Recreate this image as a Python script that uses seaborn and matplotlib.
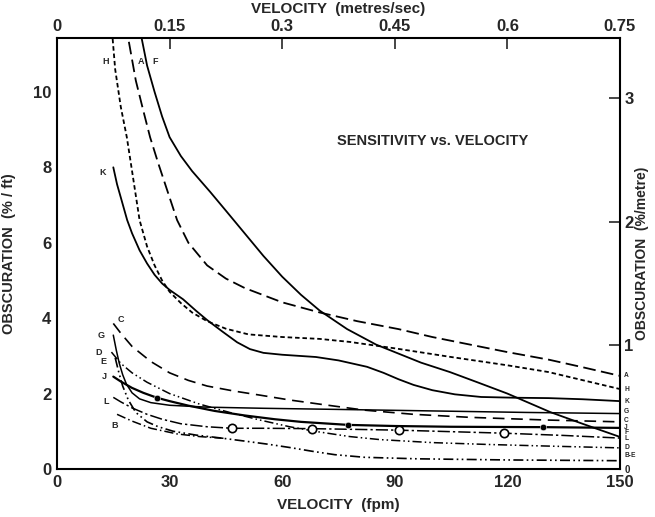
import numpy as np
import pandas as pd
import matplotlib
matplotlib.use('Agg')
import matplotlib.pyplot as plt
import seaborn as sns

# curve readings: velocity (fpm) vs obscuration (%/ft)
A_x = [18.3, 21, 23, 24.8, 27, 30, 32, 35, 40, 45, 50, 60, 70, 80, 91, 100, 110, 120, 131, 140, 150]
A_y = [11.8, 10.3, 9.5, 8.8, 8.1, 7.2, 6.6, 6.0, 5.4, 5.05, 4.8, 4.42, 4.15, 3.92, 3.71, 3.5, 3.3, 3.1, 2.9, 2.7, 2.47]

H_x = [14.5, 15.5, 17, 18.6, 20, 22, 24, 26, 28, 30, 33, 36, 40, 45, 51, 60, 70, 78, 90, 105, 120, 131, 150]
H_y = [11.8, 10.6, 9.6, 8.8, 7.9, 6.6, 5.9, 5.4, 5.0, 4.7, 4.4, 4.15, 3.92, 3.72, 3.57, 3.5, 3.45, 3.37, 3.2, 2.97, 2.75, 2.57, 2.12]

F_x = [22.2, 24, 26, 28, 30, 33, 36, 40.8, 45, 50, 55, 60, 65, 70, 77.3, 85, 90, 97, 104.7, 112, 120, 131.4, 140, 150]
F_y = [11.6, 10.7, 10.0, 9.35, 8.8, 8.3, 7.9, 7.35, 6.85, 6.25, 5.65, 5.1, 4.62, 4.2, 3.71, 3.3, 3.1, 2.82, 2.57, 2.3, 2.0, 1.51, 1.2, 0.85]

K_x = [15, 16, 17, 18.7, 20, 22, 24, 26, 28, 30, 33.6, 37, 40, 44, 48, 51.4, 55, 60, 69, 75, 82.6, 87, 91, 95, 100, 106, 113, 122, 131, 140, 150]
K_y = [8.0, 7.55, 7.2, 6.6, 6.25, 5.8, 5.45, 5.15, 4.92, 4.75, 4.5, 4.2, 3.95, 3.65, 3.36, 3.18, 3.08, 3.03, 2.97, 2.88, 2.71, 2.55, 2.38, 2.23, 2.09, 1.98, 1.91, 1.89, 1.88, 1.85, 1.8]

C_x = [15, 17, 20, 25, 30, 35, 40, 47, 54, 62, 70, 82, 95, 110, 130, 150]
C_y = [3.86, 3.6, 3.25, 2.85, 2.55, 2.35, 2.2, 2.07, 1.96, 1.83, 1.72, 1.56, 1.45, 1.37, 1.3, 1.25]

G_x = [15, 15.8, 16.6, 17.5, 18.5, 20, 22, 25, 30, 40, 55, 75, 100, 125, 150]
G_y = [3.55, 3.15, 2.8, 2.5, 2.25, 2.02, 1.86, 1.76, 1.69, 1.64, 1.61, 1.58, 1.54, 1.5, 1.47]

D_x = [14.5, 17, 20, 24, 30, 38, 46, 54, 62, 70, 78, 86, 100, 115, 130, 150]
D_y = [3.1, 2.8, 2.55, 2.3, 2.0, 1.72, 1.5, 1.3, 1.12, 0.98, 0.86, 0.78, 0.7, 0.65, 0.61, 0.56]

E_x = [15.5, 16.5, 17.5, 19, 21, 24, 27, 31, 37, 43, 50, 56, 62, 68, 74, 82, 96, 120, 150]
E_y = [2.95, 2.55, 2.2, 1.83, 1.5, 1.25, 1.12, 1.0, 0.9, 0.83, 0.74, 0.66, 0.57, 0.47, 0.38, 0.31, 0.27, 0.24, 0.22]

B_x = [16, 20, 25, 32, 38, 45]
B_y = [1.45, 1.27, 1.08, 0.93, 0.86, 0.81]

J_x = [15, 17, 20, 23, 26.6, 30, 35, 42, 50, 58, 65, 77.5, 90, 105, 129.5, 150]
J_y = [2.45, 2.32, 2.15, 2.02, 1.89, 1.8, 1.68, 1.54, 1.42, 1.32, 1.25, 1.17, 1.14, 1.12, 1.11, 1.09]
J_dot_x = [26.6, 77.5, 129.5]
J_dot_y = [1.89, 1.17, 1.11]

L_x = [15, 17, 20, 24, 28, 33, 40, 46.6, 55, 68, 80, 91, 105, 119, 135, 150]
L_y = [1.9, 1.78, 1.62, 1.45, 1.32, 1.2, 1.12, 1.08, 1.08, 1.07, 1.05, 1.03, 0.99, 0.95, 0.89, 0.82]
L_circ_x = [46.6, 68, 91, 119]
L_circ_y = [1.08, 1.07, 1.03, 0.95]

fpm_ticks = [0, 30, 60, 90, 120, 150]
ms_labels = ['0', '0.15', '0.3', '0.45', '0.6', '0.75']
ft_ticks = [0, 2, 4, 6, 8, 10]
m_ticks = [0, 1, 2, 3]

sns.set_theme(style='white')
plt.rcParams['font.family'] = ['Liberation Sans', 'DejaVu Sans']
plt.rcParams['font.weight'] = 'bold'
plt.rcParams['axes.labelweight'] = 'bold'

fig = plt.figure(figsize=(6.55, 5.17), dpi=100)
ax = fig.add_axes([57/655, 48/517, 563/655, 431/517])

curves = [
    ('A', A_x, A_y, (0, (7, 3)), 1.3),
    ('H', H_x, H_y, (0, (2.5, 1.6)), 1.3),
    ('F', F_x, F_y, '-', 1.3),
    ('K', K_x, K_y, '-', 1.3),
    ('C', C_x, C_y, (0, (7, 4)), 1.2),
    ('G', G_x, G_y, '-', 1.1),
    ('D', D_x, D_y, (0, (6, 2, 1, 2, 1, 2)), 1.1),
    ('E', E_x, E_y, (0, (6, 2, 1, 2, 1, 2)), 1.2),
    ('B', B_x, B_y, (0, (6, 2, 1, 2)), 1.1),
    ('J', J_x, J_y, '-', 1.6),
    ('L', L_x, L_y, (0, (8, 2, 1.5, 2)), 1.1),
]
for name, xs, ys, ls, lw in curves:
    sns.lineplot(x=xs, y=ys, ax=ax, color='black', linestyle=ls, lw=lw,
                 sort=False, estimator=None)

sns.scatterplot(x=J_dot_x, y=J_dot_y, ax=ax, color='black', s=22, zorder=5)
sns.scatterplot(x=L_circ_x, y=L_circ_y, ax=ax, facecolor='white', edgecolor='black',
                linewidth=1.2, s=36, zorder=5)

ax.set_xlim(0, 150)
ax.set_ylim(0, 11.43)
ax.set_xticks(fpm_ticks)
ax.set_yticks(ft_ticks)
ax.tick_params(direction='in', length=8, width=1.2, labelsize=12, pad=4)
for s in ax.spines.values():
    s.set_color('black')
    s.set_linewidth(1.5)
ax.set_xlabel('VELOCITY  (fpm)', fontsize=11, labelpad=6)
ax.set_ylabel('OBSCURATION  (% / ft)', fontsize=10.5, labelpad=12)

top = ax.secondary_xaxis('top', functions=(lambda v: v * 0.005, lambda v: v / 0.005))
top.set_xticks([float(t) for t in ms_labels])
top.set_xticklabels(ms_labels)
top.tick_params(direction='in', length=8, width=1.2, labelsize=12, pad=3)
top.set_xlabel('VELOCITY  (metres/sec)', fontsize=11, labelpad=4)

right = ax.secondary_yaxis('right', functions=(lambda v: v * 0.3048, lambda v: v / 0.3048))
right.set_yticks(m_ticks)
right.tick_params(direction='in', length=8, width=1.2, labelsize=12, pad=3)
right.set_ylabel('OBSCURATION  (%/metre)', fontsize=10, labelpad=1)
# the bottom-right zero is a small mark squeezed under the curve tags
right.get_yticklabels()[0].set_fontsize(7)

# curve labels at the left-hand starts
left_off = {'K': (-5, -4, 'right'), 'C': (3, 3, 'left'), 'G': (-6, 0, 'right'),
            'D': (-7, 0, 'right'), 'E': (-6, -3, 'right'), 'J': (-5, 0, 'right'),
            'L': (-3, -3, 'right'), 'B': (-2, -8, 'center')}
for name, xs, ys, ls, lw in curves:
    if name in left_off:
        dx, dy, ha = left_off[name]
        ax.annotate(name, (xs[0], ys[0]), xytext=(dx, dy), textcoords='offset points',
                    ha=ha, va='center', fontsize=6.5)
# labels of the curves leaving the top
for name, xs, ys, dx in [('H', H_x, H_y, -4), ('A', A_x, A_y, 4), ('F', F_x, F_y, 4)]:
    xc = np.interp(10.8, ys[::-1], xs[::-1])
    ax.annotate(name, (xc, 10.8), xytext=(dx, 0), textcoords='offset points',
                ha='right' if dx < 0 else 'left', va='center', fontsize=6.5)

# labels at the right-hand ends (small nudges where they would collide)
right_names = {'A': ('A', 0), 'H': ('H', 0), 'K': ('K', 0), 'G': ('G', 1.5),
               'C': ('C', 1.0), 'J': ('J', 0.5), 'F': ('F', 3.0), 'L': ('L', -0.5),
               'D': ('D', 0), 'E': ('B-E', 3.5)}
for name, xs, ys, ls, lw in curves:
    if name in right_names:
        txt, dy = right_names[name]
        ax.annotate(txt, (xs[-1], ys[-1]), xytext=(3, dy),
                    textcoords='offset points', ha='left', va='center',
                    fontsize=4.8, annotation_clip=False)

ax.text(100, 8.7, 'SENSITIVITY vs. VELOCITY', ha='center', va='center', fontsize=10.5)

fig.savefig('out.png', dpi=100)
